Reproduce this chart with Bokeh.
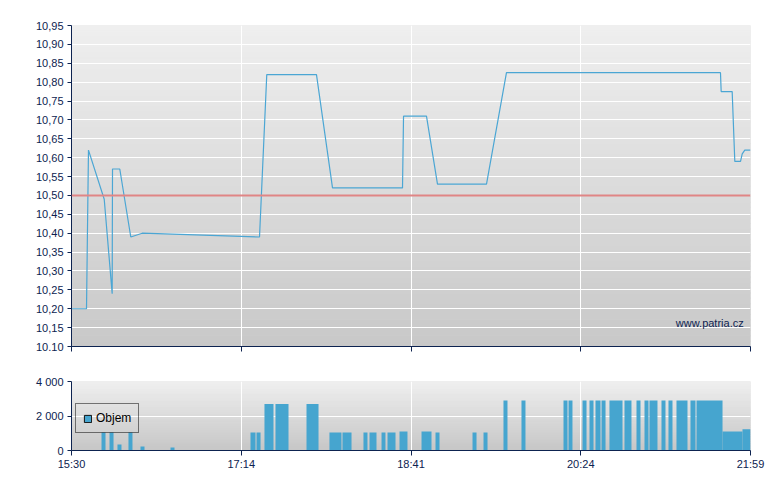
from bokeh.plotting import figure
from bokeh.models import (Range1d, FixedTicker, CustomJSTickFormatter, Span, Label,
                          Legend, LegendItem)
from bokeh.layouts import column
from bokeh.embed import file_html
from bokeh.resources import INLINE

# ---- data (x = position along the session, 0 = 15:30, 100 = 21:59) ----
tick_pos = [0, 25, 50, 75, 100]
tick_labels = ["15:30", "17:14", "18:41", "20:24", "21:59"]

price_x = [0, 2.21, 2.50, 4.82, 5.99, 6.04, 7.11, 8.73, 10.41, 27.69, 28.76, 36.08,
           38.44, 48.75, 48.90, 52.28, 53.90, 61.12, 64.06, 95.58, 95.68, 97.30,
           97.69, 98.53, 98.78, 99.16, 100]
price_y = [10.20, 10.20, 10.62, 10.49, 10.24, 10.57, 10.57, 10.39, 10.40, 10.39, 10.82,
           10.82, 10.52, 10.52, 10.71, 10.71, 10.53, 10.53, 10.825, 10.825, 10.775,
           10.775, 10.59, 10.59, 10.61, 10.62, 10.62]
ref_price = 10.50

vol_left = [4.42, 5.60, 6.77, 8.39, 10.16, 14.58, 26.36, 27.25, 28.42, 30.04, 34.61,
            37.99, 39.91, 43.00, 43.89, 45.66, 46.54, 48.31, 51.55, 53.61, 59.06,
            60.68, 63.62, 66.27, 72.46, 73.20, 75.26, 76.29, 77.17, 78.06, 79.23,
            81.44, 83.21, 84.39, 85.12, 86.89, 87.92, 89.10, 91.16, 92.05, 95.88, 98.82]
vol_right = [5.01, 6.19, 7.36, 8.98, 10.75, 15.17, 27.10, 27.84, 29.75, 31.96, 36.38,
             39.76, 41.24, 43.59, 44.92, 46.24, 47.72, 49.48, 53.02, 54.20, 59.65,
             61.27, 64.21, 66.86, 73.05, 73.78, 75.85, 76.88, 77.91, 78.65, 81.15,
             82.47, 83.80, 84.98, 86.30, 87.48, 88.51, 90.72, 91.90, 95.88, 98.82, 100]
vol_val = [1050, 1050, 350, 1050, 230, 170, 1050, 1050, 2700, 2700, 2700,
           1050, 1050, 1050, 1050, 1050, 1050, 1100, 1100, 1050, 1050,
           1050, 2900, 2900, 2900, 2900, 2900, 2900, 2900, 2900, 2900,
           2900, 2900, 2900, 2900, 2900, 2900, 2900, 2900, 2900, 1100, 1230]

price_ticks = [10.10, 10.15, 10.20, 10.25, 10.30, 10.35, 10.40, 10.45, 10.50, 10.55,
               10.60, 10.65, 10.70, 10.75, 10.80, 10.85, 10.90, 10.95]
vol_ticks = [0, 2000, 4000]
vol_tick_labels = ["0", "2 000", "4 000"]

NAVY = "#0d2350"
FONT = "Liberation Sans"
LINE_BLUE = "#4ba6d4"
BAR_BLUE = "#46a5cf"


def gradient(p, y0, y1, c_top, c_bot, n=60):
    bots, tops, cols = [], [], []
    for i in range(n):
        b = y0 + (y1 - y0) * i / n
        t = y0 + (y1 - y0) * (i + 1) / n
        f = (i + 0.5) / n
        c = tuple(int(round(cb + (ct - cb) * f)) for ct, cb in zip(c_top, c_bot))
        bots.append(b); tops.append(t); cols.append("#%02x%02x%02x" % c)
    r = p.quad(left=0, right=100, bottom=bots, top=tops, fill_color=cols,
               line_color=cols, line_width=1)
    r.level = "image"


def style_axes(p):
    for ax in p.axis:
        ax.axis_line_color = NAVY
        ax.major_tick_line_color = NAVY
        ax.minor_tick_line_color = None
        ax.major_tick_in = 0
        ax.major_tick_out = 4
        ax.major_label_text_color = NAVY
        ax.major_label_text_font = FONT
        ax.major_label_text_font_size = "11px"
    p.grid.grid_line_color = "white"
    p.grid.grid_line_width = 1
    p.outline_line_color = None
    p.background_fill_color = "#dddddd"


# ---- price chart ----
p1 = figure(frame_width=679, frame_height=321, min_border_left=71, min_border_right=22,
            min_border_top=25, min_border_bottom=18, output_backend="svg",
            toolbar_location=None, x_range=Range1d(0, 100),
            y_range=Range1d(10.10, 10.95))
gradient(p1, 10.10, 10.95, (239, 239, 239), (200, 200, 200))
p1.line(price_x, price_y, line_color=LINE_BLUE, line_width=1.2)
p1.add_layout(Span(location=ref_price, dimension="width", line_color="#e08585",
                   line_width=2))
p1.add_layout(Label(x=99, y=10.161, text="www.patria.cz", text_align="right",
                    text_baseline="middle", text_color=NAVY, text_font=FONT,
                    text_font_size="11px"))
style_axes(p1)
p1.xaxis.ticker = FixedTicker(ticks=tick_pos)
p1.xaxis.major_tick_out = 5
p1.xaxis.major_label_overrides = {t: "" for t in tick_pos}
p1.xaxis.major_label_standoff = 0
p1.yaxis.ticker = FixedTicker(ticks=price_ticks)
p1.yaxis.major_label_standoff = 4
p1.yaxis.formatter = CustomJSTickFormatter(code="""
    const s = tick.toFixed(2);
    return Math.abs(tick - 10.10) < 1e-6 ? s : s.replace('.', ',');
""")

# ---- volume chart ----
p2 = figure(frame_width=679, frame_height=69, min_border_left=71, min_border_right=22,
            min_border_top=17, min_border_bottom=28, output_backend="svg",
            toolbar_location=None, x_range=Range1d(0, 100), y_range=Range1d(0, 4000))
gradient(p2, 0, 4000, (239, 239, 239), (198, 198, 198), n=30)
p2.quad(left=vol_left, right=vol_right, bottom=0, top=vol_val, fill_color=BAR_BLUE,
        line_color=None)
dummy = p2.quad(left=[-20], right=[-10], bottom=[0], top=[1], fill_color=BAR_BLUE,
                line_color="#111111", line_width=1)
style_axes(p2)
p2.xaxis.ticker = FixedTicker(ticks=tick_pos)
p2.xaxis.major_label_overrides = dict(zip(tick_pos, tick_labels))
p2.xaxis.major_tick_out = 5
p2.xaxis.major_label_standoff = 2
p2.yaxis.ticker = FixedTicker(ticks=vol_ticks)
p2.yaxis.major_label_overrides = dict(zip(vol_ticks, vol_tick_labels))
p2.yaxis.major_label_standoff = 4

legend = Legend(items=[LegendItem(label="Objem", renderers=[dummy])],
                location=(4, 17), orientation="vertical",
                border_line_color="black", border_line_width=1,
                background_fill_alpha=0, padding=7, spacing=0, margin=0,
                glyph_width=9, glyph_height=9, label_standoff=4,
                label_text_font=FONT, label_text_font_size="12px",
                label_text_color="black", label_height=12)
p2.add_layout(legend, "center")

layout = column(p1, p2, spacing=0)
open("out.html", "w").write(file_html(layout, INLINE))
